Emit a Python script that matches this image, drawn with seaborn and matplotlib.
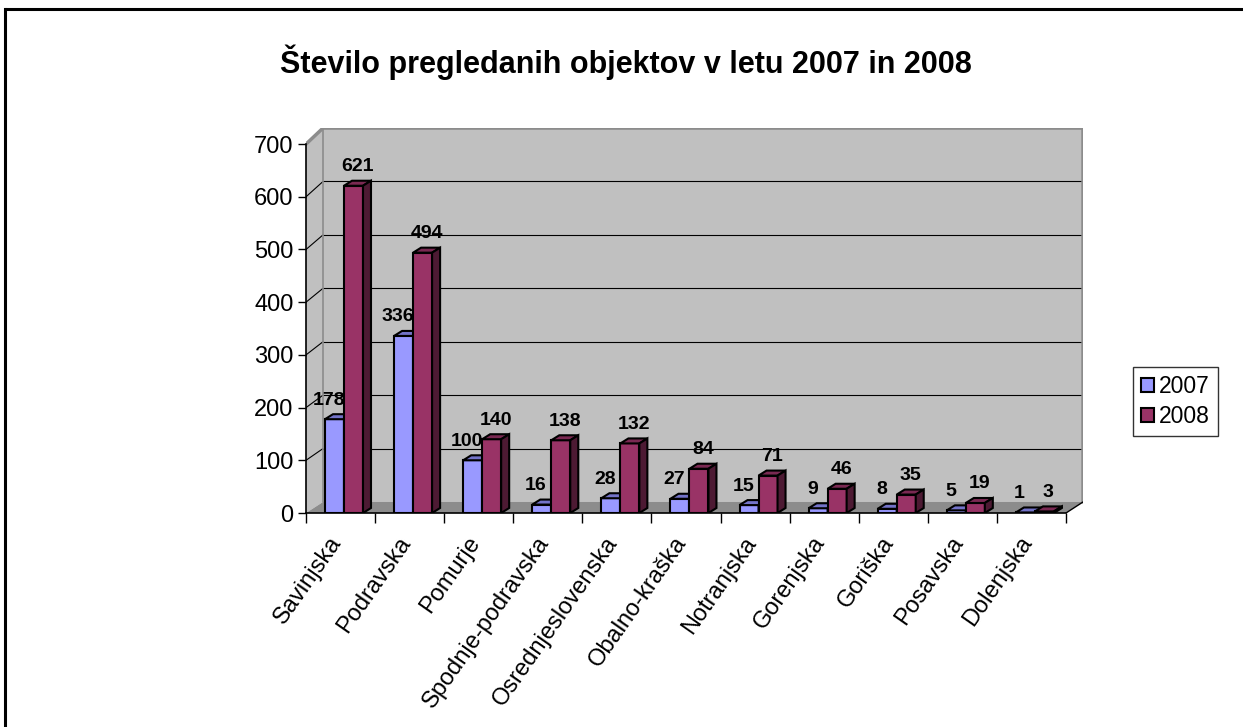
import numpy as np
import pandas as pd
import matplotlib
matplotlib.use('Agg')
import matplotlib.pyplot as plt
from matplotlib.patches import Polygon, Patch
from matplotlib.lines import Line2D
from matplotlib.transforms import ScaledTranslation
import seaborn as sns

# data
regions = ['Savinjska', 'Podravska', 'Pomurje', 'Spodnje-podravska', 'Osrednjeslovenska',
           'Obalno-kraška', 'Notranjska', 'Gorenjska', 'Goriška', 'Posavska', 'Dolenjska']
v2007 = [178, 336, 100, 16, 28, 27, 15, 9, 8, 5, 1]
v2008 = [621, 494, 140, 138, 132, 84, 71, 46, 35, 19, 3]
years = ['2007', '2008']

df = pd.DataFrame({
    'region': regions * 2,
    'value': v2007 + v2008,
    'year': ['2007'] * len(regions) + ['2008'] * len(regions),
})

sns.set_style('white')
plt.rcParams['font.family'] = ['Liberation Sans', 'DejaVu Sans']
for k in ['text.color', 'axes.labelcolor', 'xtick.color', 'ytick.color']:
    plt.rcParams[k] = 'black'

front = {'2007': '#9999FF', '2008': '#993366'}
tops = {'2007': '#7373C8', '2008': '#7A2952'}
sides = {'2007': '#4D4D80', '2008': '#4D1A33'}

W, H = 1243, 727
fig = plt.figure(figsize=(W / 100, H / 100), dpi=100)

# axes placed so the front plane matches the reference
px_u = 0.527            # pixels per value unit
cat_w = 760 / 11        # pixels per category
ymax = 731
ax = fig.add_axes([306 / W, (H - 513) / H, (1083 - 306) / W, ymax * px_u / H])
dxw = (1083 - 1066) / cat_w


def back(v):
    # value position on the back wall (slight perspective)
    return v * 1.0136 + 20.9


n = len(regions)
xl, xr = -0.5 + dxw, n - 0.5 + dxw
wall_c = '#C0C0C0'
edge_c = '#8C8C8C'
# back wall and left side wall
ax.add_patch(Polygon([(xl, back(0)), (xr, back(0)), (xr, back(700)), (xl, back(700))],
                     closed=True, fc=wall_c, ec='none', zorder=0))
ax.add_patch(Polygon([(-0.5, 0), (xl, back(0)), (xl, back(700)), (-0.5, 700)],
                     closed=True, fc=wall_c, ec='none', zorder=0))
# gridlines
for v in range(100, 700, 100):
    ax.plot([xl, xr], [back(v), back(v)], color='black', lw=0.8, zorder=0.5)
    ax.plot([-0.5, xl], [v, back(v)], color='black', lw=0.8, zorder=0.5)
# wall outline
ax.plot([-0.5, xl, xr, xr], [700, back(700), back(700), back(0)], color=edge_c, lw=2.5,
        zorder=0.6, solid_joinstyle='miter')
ax.plot([xl, xl], [back(0), back(700)], color=edge_c, lw=1.2, zorder=0.6)
# floor
ax.add_patch(Polygon([(-0.5, 0), (n - 0.5, 0), (xr, back(0)), (xl, back(0))],
                     closed=True, fc='#8C8C8C', ec='none', zorder=0.7))
ax.plot([n - 0.5, xr], [0, back(0)], color='black', lw=1, zorder=0.8)

sns.barplot(data=df, x='region', y='value', hue='year', palette=front, width=0.55,
            edgecolor='black', linewidth=1.5, saturation=1, legend=False, ax=ax, zorder=2)
ax.set_xlim(-0.5, 10.5 + dxw)
ax.set_ylim(0, ymax)

ddx = 8 / cat_w
ddy = 5 / px_u
shift = 0.05
for k, (cont, yr) in enumerate(zip(ax.containers, years)):
    z = 2 + k
    for bar, val in zip(cont, df[df['year'] == yr]['value']):
        bar.set_x(bar.get_x() + shift)
        bar.set_zorder(z)
        x0 = bar.get_x()
        x1 = x0 + bar.get_width()
        h = bar.get_height()
        ax.add_patch(Polygon([(x0, h), (x1, h), (x1 + ddx, h + ddy), (x0 + ddx, h + ddy)],
                             closed=True, fc=tops[yr], ec='black', lw=1.5, zorder=z))
        ax.add_patch(Polygon([(x1, 0), (x1 + ddx, ddy), (x1 + ddx, h + ddy), (x1, h)],
                             closed=True, fc=sides[yr], ec='black', lw=1.5, zorder=z))
        xoff = -7 if yr == '2007' else 0
        ax.annotate(str(val), xy=((x0 + x1) / 2 + ddx / 2, h + ddy), xytext=(xoff, 4),
                    textcoords='offset points', ha='center', va='bottom',
                    fontsize=14, fontweight='bold', zorder=5)

# axes styling
for s in ['top', 'right']:
    ax.spines[s].set_visible(False)
ax.spines['left'].set_bounds(0, 700)
ax.spines['bottom'].set_bounds(-0.5, n - 0.5)
for s in ['left', 'bottom']:
    ax.spines[s].set_linewidth(1.2)
    ax.spines[s].set_color('black')
    ax.spines[s].set_zorder(6)
ax.set_yticks(range(0, 701, 100))
ax.tick_params(axis='y', length=6, width=1, pad=3, labelsize=17, left=True, direction='out')
ax.set_xticks(range(n))
ax.set_xticklabels(regions, rotation=55, ha='right', va='top', rotation_mode='anchor')
ax.set_xticks(np.arange(-0.5, n, 1), minor=True)
ax.tick_params(axis='x', which='major', length=0, pad=14, labelsize=17)
ax.tick_params(axis='x', which='minor', length=7.5, width=1, bottom=True, direction='out')
nudge = ScaledTranslation(-9 / 72, 0, fig.dpi_scale_trans)
for lab in ax.get_xticklabels():
    lab.set_transform(lab.get_transform() + nudge)
ax.set_xlabel('')
ax.set_ylabel('')

fig.text(626 / W, 1 - 62 / H, 'Število pregledanih objektov v letu 2007 in 2008',
         ha='center', va='center', fontsize=22, fontweight='bold')

handles = [Patch(fc=front[y], ec='black', lw=1.5, label=y) for y in years]
leg = fig.legend(handles=handles, loc='upper left', bbox_to_anchor=(1133 / W, 1 - 367 / H),
                 fontsize=16.5, frameon=True, fancybox=False, shadow=False,
                 handlelength=0.55, handleheight=0.55, handletextpad=0.25,
                 labelspacing=0.3, borderpad=0.35, borderaxespad=0)
leg.get_frame().set_edgecolor('black')
leg.get_frame().set_linewidth(1)

# outer chart border (only top and left edges fall inside the image)
bx, by = 5 / W, 1 - 9 / H
fig.lines.append(Line2D([bx, 1.0], [by, by], transform=fig.transFigure, color='black', lw=2.2))
fig.lines.append(Line2D([bx, bx], [0.0, by], transform=fig.transFigure, color='black', lw=2.2,
                        solid_capstyle='projecting'))

fig.savefig('out.png', dpi=100)
